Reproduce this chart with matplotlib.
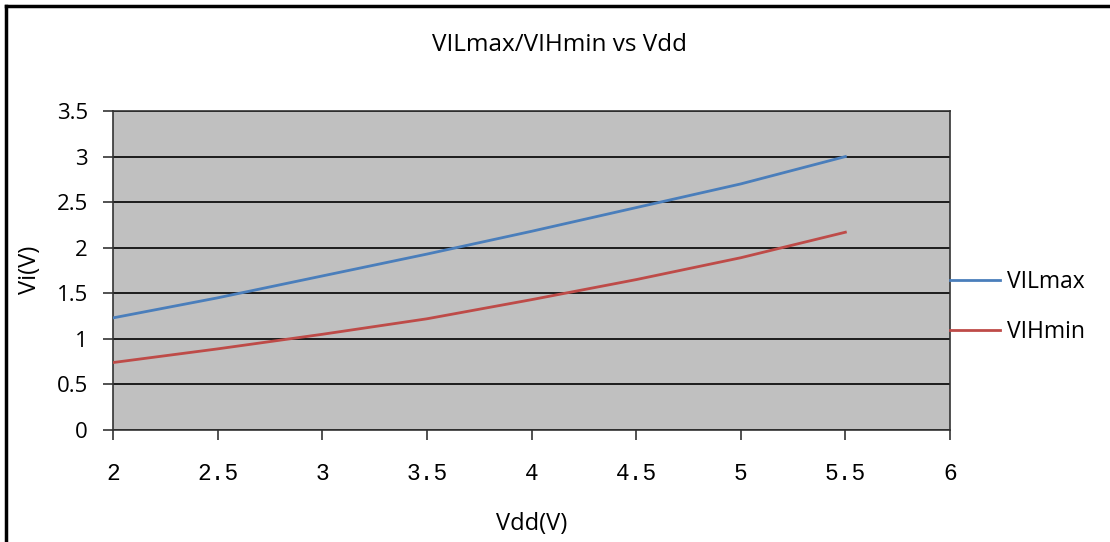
import matplotlib.pyplot as plt
from matplotlib.lines import Line2D

# values
vdd = [2.0, 2.5, 3.0, 3.5, 4.0, 4.5, 5.0, 5.5]
vil_max = [1.23, 1.45, 1.69, 1.93, 2.18, 2.44, 2.70, 3.00]
vih_min = [0.74, 0.89, 1.05, 1.22, 1.43, 1.65, 1.89, 2.17]
x_ticks = [2, 2.5, 3, 3.5, 4, 4.5, 5, 5.5, 6]
x_labels = ['2', '2.5', '3', '3.5', '4', '4.5', '5', '5.5', '6']
y_ticks = [0, 0.5, 1, 1.5, 2, 2.5, 3, 3.5]
y_labels = ['0', '0.5', '1', '1.5', '2', '2.5', '3', '3.5']

W, H = 1110, 542
fig = plt.figure(figsize=(W / 100, H / 100), dpi=100)
ax = fig.add_axes([113 / W, 1 - 430 / H, (950 - 113) / W, (430 - 111) / H])

ax.set_facecolor('#c0c0c0')
ax.plot(vdd, vil_max, color='#4a7ebb', lw=2, label='VILmax', zorder=3)
ax.plot(vdd, vih_min, color='#be4b48', lw=2, label='VIHmin', zorder=3)

ax.set_xlim(2, 6)
ax.set_ylim(0, 3.5)
ax.set_xticks(x_ticks)
ax.set_xticklabels(x_labels, family='Liberation Mono', fontsize=16.5)
ax.set_yticks(y_ticks)
ax.set_yticklabels(y_labels, family='Open Sans', fontsize=16)
ax.grid(axis='y', color='black', lw=1.2)
ax.tick_params(axis='both', direction='out', length=7, width=1.2, color='#333333')
ax.tick_params(axis='x', pad=16)
ax.tick_params(axis='y', pad=11)
for s in ax.spines.values():
    s.set_color('#333333')
    s.set_linewidth(1.2)

fig.text(560 / W, 1 - 45 / H, 'VILmax/VIHmin vs Vdd', ha='center', va='center',
         family='Open Sans', fontsize=17.5)
fig.text(30 / W, 1 - 270 / H, 'Vi(V)', ha='center', va='center', rotation=90,
         family='Open Sans', fontsize=17)
fig.text(532 / W, 1 - 524 / H, 'Vdd(V)', ha='center', va='center',
         family='Open Sans', fontsize=17)

# legend sitting outside the plot area on the right
ax.legend(loc='center left', bbox_to_anchor=(1.0, 0.386), frameon=False,
          prop={'family': 'Open Sans', 'size': 16.5}, handlelength=2.2,
          handletextpad=0.3, borderaxespad=0, borderpad=0, labelspacing=1.15)

# chart frame (left and top edges visible)
fig.add_artist(Line2D([6 / W, 6 / W], [0, 1 - 6 / H], color='black', lw=2.5,
                      transform=fig.transFigure))
fig.add_artist(Line2D([6 / W, 1], [1 - 6 / H, 1 - 6 / H], color='black', lw=2.5,
                      transform=fig.transFigure))

fig.savefig('out.png', dpi=100)
